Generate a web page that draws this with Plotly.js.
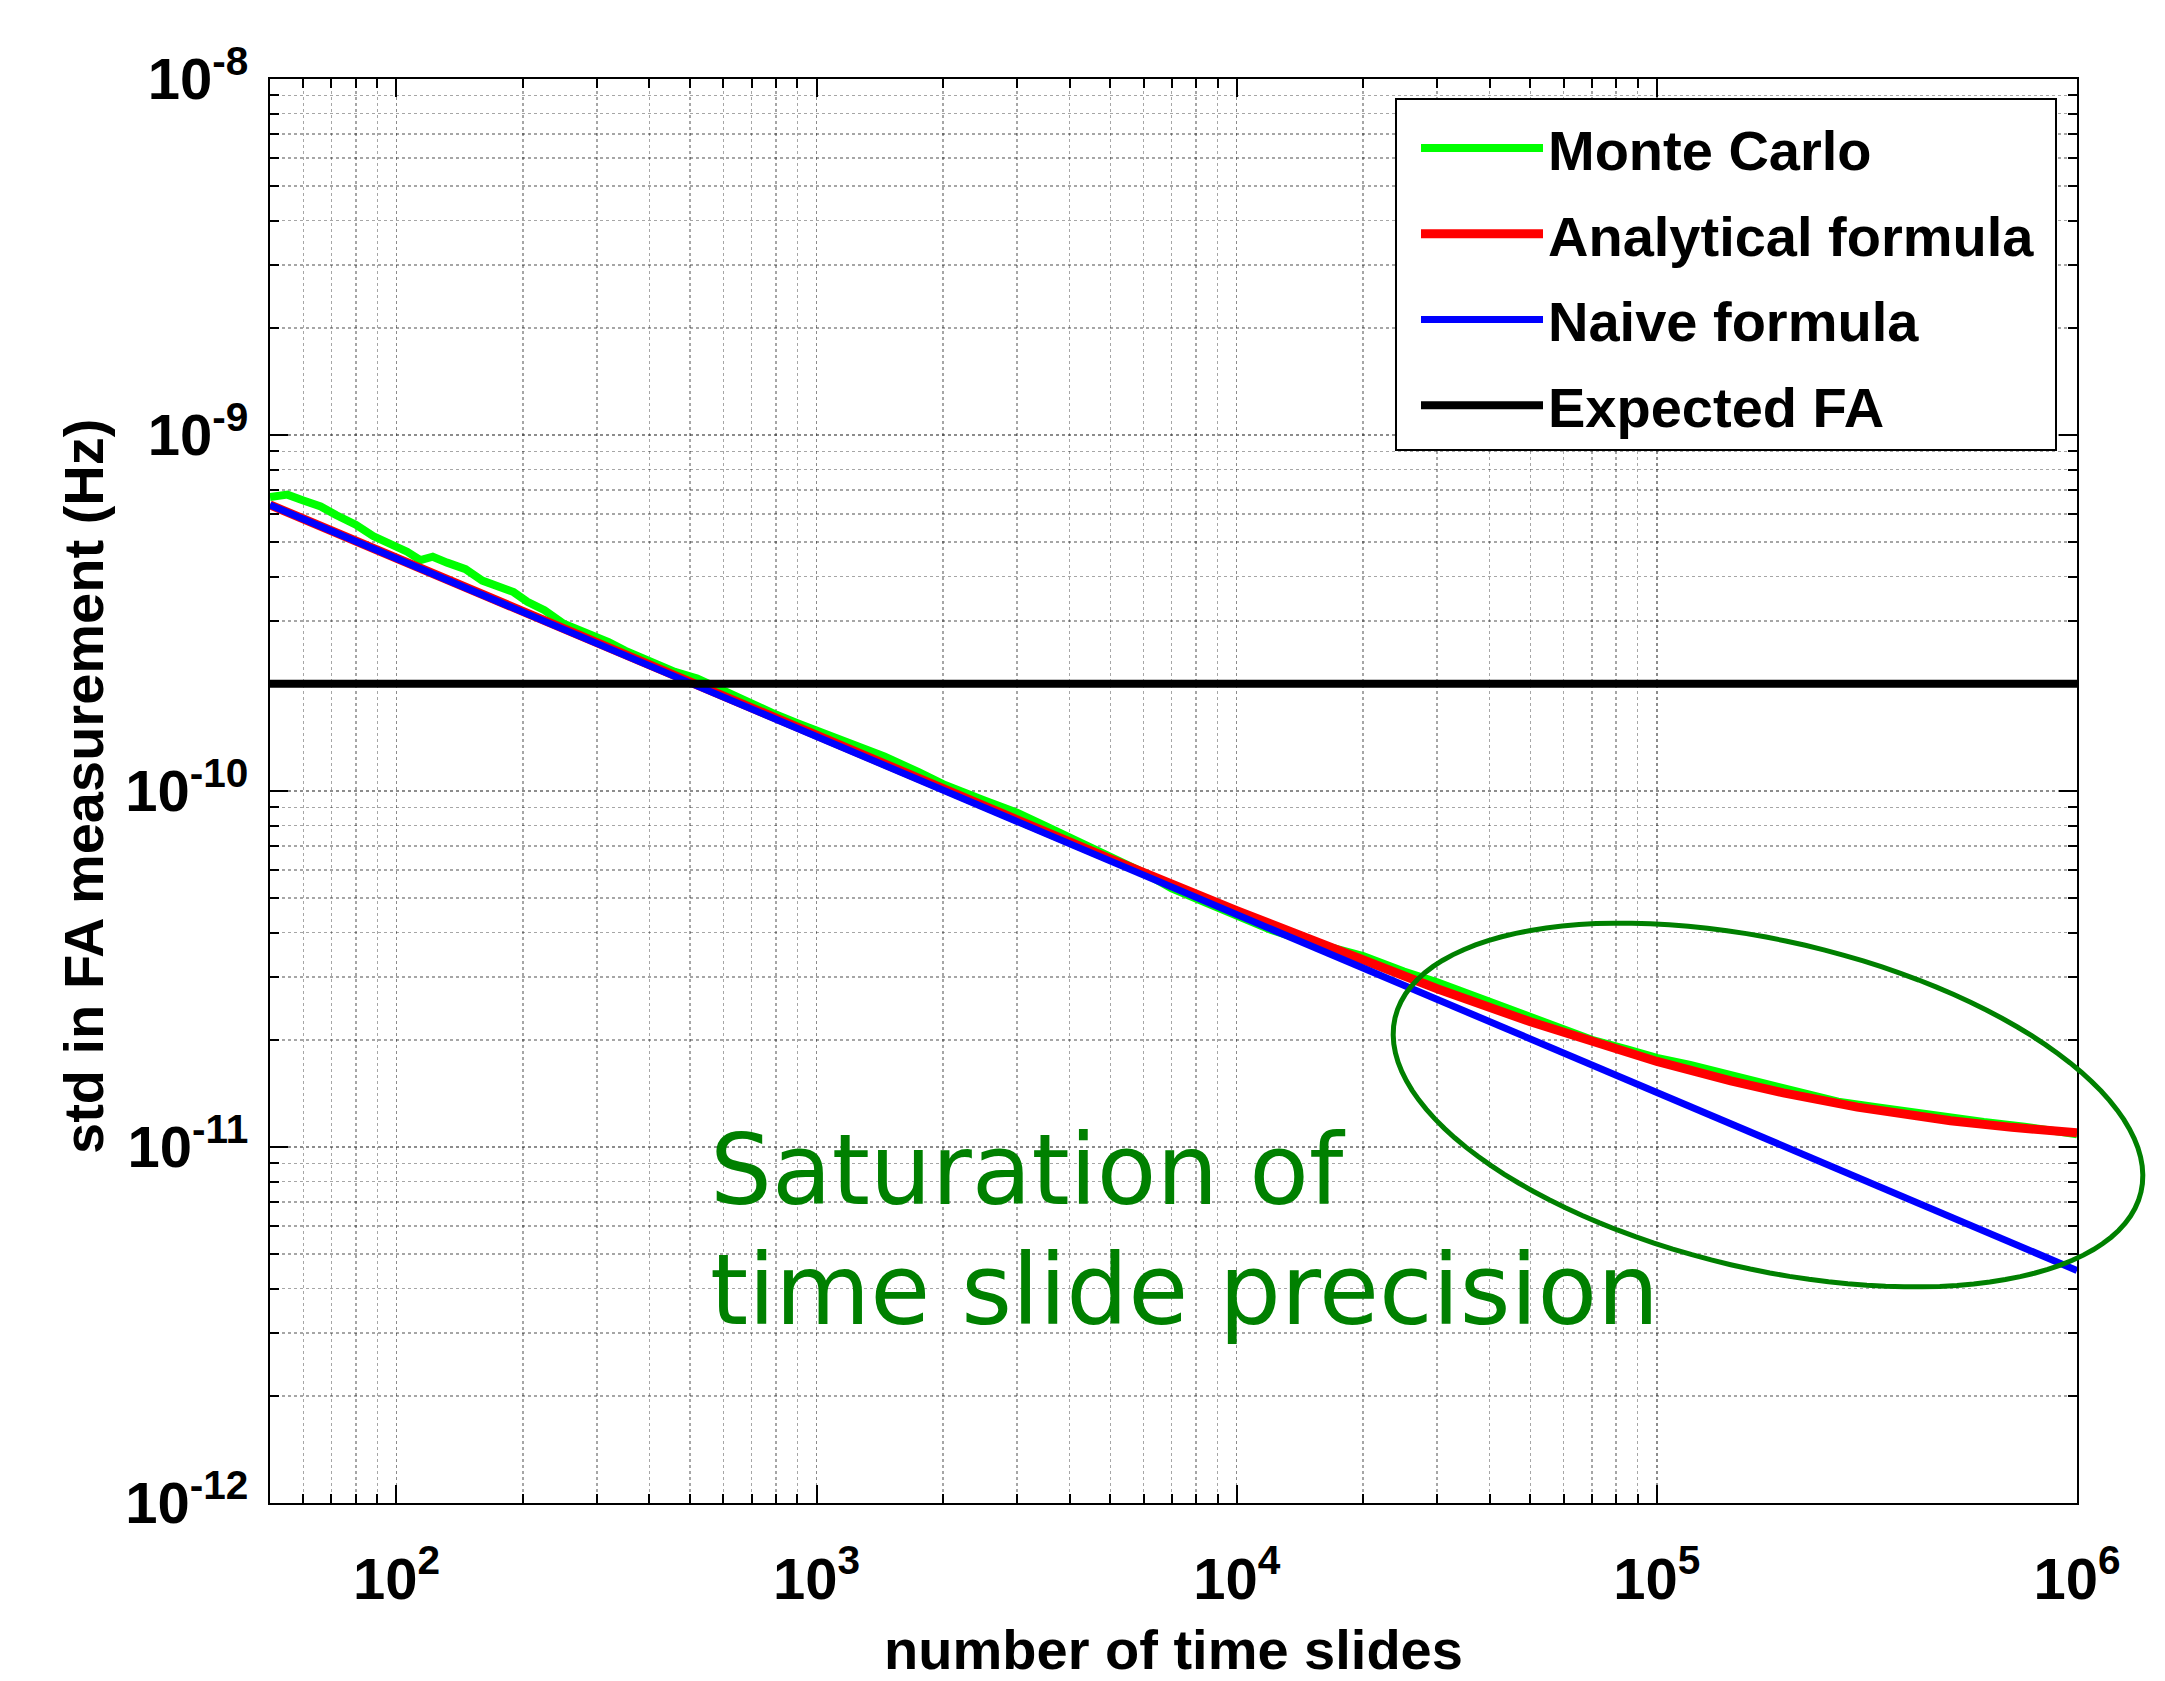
<!DOCTYPE html>
<html>
<head>
<meta charset="utf-8">
<script src="https://cdn.plot.ly/plotly-3.0.1.min.js"></script>
<style>html,body{margin:0;padding:0;background:#fff;}#chart{width:2165px;height:1681px;}</style>
</head>
<body>
<div id="chart"></div>
<script>
// ---- data ----
const mcSlides = [50,55,60,66,72,80,88,98,106,114,122,132,146,160,177,190,205,225,250,280,320,350,390,430,460,520,590,640,710,800,900,1000,1200,1450,1750,2000,2500,3000,3500,4000,5000,6000,7000,8000,9000,10000,12000,14000,17000,20000,25000,30000,40000,50000,60000,70000,85000,100000,120000,150000,180000,220000,270000,330000,400000,500000,600000,750000,900000,1000000];
const mcStd = [6.70e-10,6.80e-10,6.55e-10,6.30e-10,5.95e-10,5.60e-10,5.20e-10,4.92e-10,4.70e-10,4.45e-10,4.55e-10,4.38e-10,4.20e-10,3.90e-10,3.72e-10,3.62e-10,3.40e-10,3.22e-10,2.95e-10,2.80e-10,2.62e-10,2.48e-10,2.35e-10,2.22e-10,2.16e-10,2.07e-10,1.93e-10,1.84e-10,1.76e-10,1.64e-10,1.55e-10,1.48e-10,1.37e-10,1.25e-10,1.13e-10,1.045e-10,9.42e-11,8.69e-11,7.98e-11,7.40e-11,6.57e-11,5.90e-11,5.33e-11,4.98e-11,4.73e-11,4.47e-11,4.08e-11,3.85e-11,3.63e-11,3.44e-11,3.11e-11,2.90e-11,2.56e-11,2.33e-11,2.13e-11,2.00e-11,1.88e-11,1.78e-11,1.70e-11,1.59e-11,1.50e-11,1.41e-11,1.34e-11,1.295e-11,1.25e-11,1.20e-11,1.175e-11,1.14e-11,1.113e-11,1.086e-11];

const anaSlides = [50,100,300,1000,3000,5000,10000,20000,30000,50000,70000,100000,150000,200000,300000,500000,700000,1000000];
const anaStd = [6.365e-10,4.501e-10,2.600e-10,1.4265e-10,8.276e-11,6.442e-11,4.610e-11,3.335e-11,2.784e-11,2.247e-11,1.973e-11,1.739e-11,1.533e-11,1.419e-11,1.294e-11,1.185e-11,1.1355e-11,1.097e-11];

const naiveSlides = [50,100,1000,10000,100000,1000000];
const naiveStd = [6.36e-10,4.5e-10,1.42e-10,4.5e-11,1.42e-11,4.5e-12];

const faSlides = [50,1000000];
const faStd = [2e-10,2e-10];

const seriesNames = ['Monte Carlo','Analytical formula','Naive formula','Expected FA'];

const xTickVals = [100,1000,10000,100000,1000000];
const xTickText = ['10<sup>2</sup>','10<sup>3</sup>','10<sup>4</sup>','10<sup>5</sup>','10<sup>6</sup>'];
const yTickVals = [1e-12,1e-11,1e-10,1e-9,1e-8];
const yTickText = ['10<sup>-12</sup>','10<sup>-11</sup>','10<sup>-10</sup>','10<sup>-9</sup>','10<sup>-8</sup>'];

const xTitle = 'number of time slides';
const yTitle = 'std in FA measurement (Hz)';
const noteLines = ['Saturation of','time slide precision'];

// ---- minor ticks (axis config) ----
const xMinor = [];
[[10,6,9],[100,2,9],[1000,2,9],[10000,2,9]].forEach(([b,s,e]) => { for (let k=s;k<=e;k++) xMinor.push(k*b); });
const yMinor = [];
[1e-12,1e-11,1e-10,1e-9].forEach(b => { for (let k=2;k<=9;k++) yMinor.push(k*b); });

// ---- layout geometry ----
const W = 2165, H = 1681;
const L = 270, R = 2077, T = 79, B = 1503;
const pw = R - L, ph = B - T;
const px = x => (x - L) / pw;
const py = y => (B - y) / ph;

// ellipse (pixel geometry)
const ecx = 1768, ecy = 1105, ea = 383, eb = 164, ephi = 13.15 * Math.PI / 180;
let ep = '';
for (let i = 0; i <= 120; i++) {
  const t = 2 * Math.PI * i / 120;
  const X = ecx + ea * Math.cos(t) * Math.cos(ephi) - eb * Math.sin(t) * Math.sin(ephi);
  const Y = ecy + ea * Math.cos(t) * Math.sin(ephi) + eb * Math.sin(t) * Math.cos(ephi);
  ep += (i === 0 ? 'M' : 'L') + px(X).toFixed(5) + ',' + py(Y).toFixed(5);
}
ep += 'Z';

const FONT = 'Liberation Sans, Arial, sans-serif';
const tickFont = {family: FONT, size: 58, color: '#000', weight: 'bold'};
const titleFont = {family: FONT, size: 56, color: '#000', weight: 'bold'};

const colors = ['#00ff00','#ff0000','#0000ff','#000000'];
const xs = [mcSlides, anaSlides, naiveSlides, faSlides];
const ys = [mcStd, anaStd, naiveStd, faStd];
const widths = [8, 9, 7, 8];

const traces = seriesNames.map((n,i) => ({
  type: 'scatter', mode: 'lines', name: n, x: xs[i], y: ys[i],
  line: {color: colors[i], width: widths[i]}, legendgroup: 'g'+i
}));

const gridMajor = 'rgba(0,0,0,0.45)';
const gridMinor = 'rgba(0,0,0,0.35)';

const layout = {
  width: W, height: H,
  margin: {l: L, r: W - R, t: T, b: H - B, pad: 0},
  paper_bgcolor: '#fff', plot_bgcolor: '#fff',
  showlegend: true,
  xaxis: {
    type: 'log', range: [Math.log10(50), 6],
    tickmode: 'array', tickvals: xTickVals, ticktext: xTickText,
    ticks: 'inside', ticklen: 18, tickwidth: 2, tickcolor: '#000',
    showline: true, linecolor: '#000', linewidth: 2, mirror: 'allticks',
    showgrid: true, gridcolor: gridMajor, griddash: 'dot', gridwidth: 1.5,
    zeroline: false, tickfont: tickFont, ticklabelstandoff: 24,
    minor: {tickmode: 'array', tickvals: xMinor, ticks: 'inside', ticklen: 9, tickwidth: 2, tickcolor: '#000',
            showgrid: true, gridcolor: gridMinor, griddash: 'dot', gridwidth: 1.5},
    title: {text: xTitle, font: titleFont, standoff: 26}
  },
  yaxis: {
    type: 'log', range: [-12, -8],
    tickmode: 'array', tickvals: yTickVals, ticktext: yTickText,
    ticks: 'inside', ticklen: 18, tickwidth: 2, tickcolor: '#000',
    showline: true, linecolor: '#000', linewidth: 2, mirror: 'allticks',
    showgrid: true, gridcolor: gridMajor, griddash: 'dot', gridwidth: 1.5,
    zeroline: false, tickfont: tickFont, ticklabelstandoff: 8,
    minor: {tickmode: 'array', tickvals: yMinor, ticks: 'inside', ticklen: 9, tickwidth: 2, tickcolor: '#000',
            showgrid: true, gridcolor: gridMinor, griddash: 'dot', gridwidth: 1.5}
  },
  legend: {
    x: px(1416), y: py(105), xanchor: 'left', yanchor: 'top',
    bgcolor: 'rgba(0,0,0,0)', borderwidth: 0,
    font: {family: FONT, size: 56, color: '#000', weight: 'bold'},
    itemwidth: 122, tracegroupgap: 10
  },
  shapes: [
    {type: 'rect', xref: 'paper', yref: 'paper', x0: px(1396), x1: px(2056), y0: py(450), y1: py(99),
     line: {color: '#000', width: 2}, fillcolor: '#fff', layer: 'above'},
    {type: 'path', xref: 'paper', yref: 'paper', path: ep, line: {color: '#008000', width: 5}, fillcolor: 'rgba(0,0,0,0)'}
  ],
  annotations: noteLines.map((t,i) => ({
    text: t, xref: 'paper', yref: 'paper', x: px(708), y: py([1170,1290][i]),
    xanchor: 'left', yanchor: 'middle', showarrow: false,
    font: {family: 'DejaVu Sans, sans-serif', size: 97.5, color: '#008000'}
  })).concat([{
    text: yTitle, xref: 'paper', yref: 'paper', x: px(83), y: py(787),
    xanchor: 'center', yanchor: 'middle', textangle: -90, showarrow: false,
    font: titleFont
  }])
};

Plotly.newPlot('chart', traces, layout, {staticPlot: true, displayModeBar: false});
</script>
</body>
</html>
